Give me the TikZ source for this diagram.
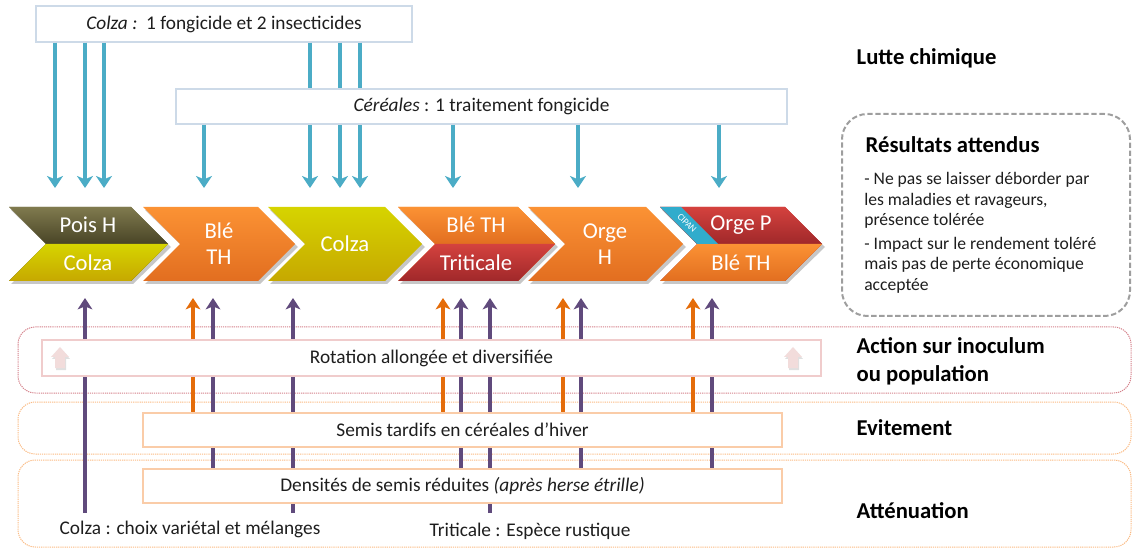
\documentclass[tikz,border=0pt]{standalone}
\usepackage{fontspec}
\setmainfont{Carlito}
\usetikzlibrary{arrows.meta,fit}
\definecolor{olivetop}{RGB}{128,122,78}
\definecolor{olivebot}{RGB}{72,68,38}
\definecolor{colzatop}{RGB}{214,212,0}
\definecolor{colzabot}{RGB}{198,168,0}
\definecolor{orangetop}{RGB}{251,146,52}
\definecolor{orangebot}{RGB}{226,110,32}
\definecolor{redtop}{RGB}{212,66,62}
\definecolor{redbot}{RGB}{160,40,42}
\definecolor{cipanblue}{RGB}{49,172,204}
\definecolor{arrblue}{RGB}{75,172,198}
\definecolor{arrpurple}{RGB}{96,74,124}
\definecolor{arrorange}{RGB}{228,108,10}
\definecolor{boxblue}{RGB}{205,218,232}
\definecolor{boxpink}{RGB}{240,204,204}
\definecolor{boxorange}{RGB}{250,204,168}
\definecolor{bandred}{RGB}{212,128,138}
\definecolor{bandorange}{RGB}{250,186,130}
\definecolor{blockpink}{RGB}{242,220,219}
\definecolor{txtdark}{RGB}{30,30,30}
\newcommand{\mychev}[4]{%
  \fill[black,opacity=.22] ({#1+2},210) -- ({#2+2},210) -- ({#2+40},247) -- ({#2+2},284) -- ({#1+2},284) -- ({#1+40},247) -- cycle;
  \path[top color=#3,bottom color=#4] (#1,207) -- (#2,207) -- ({#2+37},244) -- (#2,281) -- (#1,281) -- ({#1+37},244) -- cycle;}
\newcommand{\mychevtop}[4]{%
  \path[top color=#3,bottom color=#4] (#1,207) -- (#2,207) -- ({#2+37},244) -- ({#1+37},244) -- cycle;}
\newcommand{\mychevbot}[4]{%
  \path[top color=#3,bottom color=#4] ({#1+37},244) -- ({#2+37},244) -- (#2,281) -- (#1,281) -- cycle;}
\begin{document}
\begin{tikzpicture}[x=0.75pt,y=-0.75pt,
  box/.style={draw=#1,fill=white,line width=0.9pt,inner sep=0pt,font=\fontsize{14.5}{17}\selectfont,text=txtdark},
  band/.style={draw=#1,line width=0.75pt,dash pattern=on 0.9pt off 0.7pt,rounded corners=13pt},
  bluearr/.style={draw=arrblue,line width=2.3pt,-{Stealth[length=9pt,width=12pt,inset=2.5pt]}},
  uparr/.style={draw=#1,line width=2.5pt,-{Stealth[length=8.5pt,width=11pt,inset=2.2pt]}},
  chevtext/.style={text=white,font=\fontsize{17}{19.5}\selectfont,align=center},
  sidelabel/.style={anchor=west,font=\fontsize{17}{21}\selectfont\bfseries,text=black,align=left},
  bottomtext/.style={font=\fontsize{14.5}{17}\selectfont,text=txtdark},
  pinkblock/.style={fill=blockpink}
]
\useasboundingbox (0,0) rectangle (1133,549);

% bands
\draw[band=bandred] (18,327) rectangle (1131,393);
\draw[band=bandorange] (18,402) rectangle (1131,454);
\draw[band=bandorange] (18,460) rectangle (1131,547);

% arrow end points
\coordinate (p1) at (85,298);
\coordinate (p2) at (213,298);
\coordinate (p3) at (293,298);
\coordinate (p4) at (461,298);
\coordinate (p5) at (490,298);
\coordinate (p6) at (581,298);
\coordinate (p7) at (712,298);
\coordinate (o1) at (193,298);
\coordinate (o2) at (443,298);
\coordinate (o3) at (563,298);
\coordinate (o4) at (693,298);
\coordinate (f1) at (85,513);
\coordinate (f3) at (293,513);
\coordinate (f5) at (490,513);

\path (143,413) coordinate (semisTL) (782,447) coordinate (semisBR);
\path (143,469) coordinate (densTL) (782,503) coordinate (densBR);

% up arrows (behind boxes)
\draw[uparr=arrpurple] (f1) -- (p1);
\draw[uparr=arrpurple] (f3) -- (p3);
\draw[uparr=arrpurple] (f5) -- (p5);
\draw[uparr=arrpurple] (densTL -| p2) -- (p2);
\draw[uparr=arrpurple] (densTL -| p4) -- (p4);
\draw[uparr=arrpurple] (densTL -| p6) -- (p6);
\draw[uparr=arrpurple] (densTL -| p7) -- (p7);
\draw[uparr=arrorange] (semisTL -| o1) -- (o1);
\draw[uparr=arrorange] (semisTL -| o2) -- (o2);
\draw[uparr=arrorange] (semisTL -| o3) -- (o3);
\draw[uparr=arrorange] (semisTL -| o4) -- (o4);

% boxes
\node[box=boxpink,fit={(42,340) (821,376)}] (rot) {};
\node[font=\fontsize{14.5}{17}\selectfont,text=txtdark] (rottxt) at (rot.center) {Rotation allongée et diversifiée};
\node[box=boxorange,fit={(semisTL) (semisBR)}] (semis) {};
\node[font=\fontsize{14.5}{17}\selectfont,text=txtdark] (semistxt) at (semis.center) {Semis tardifs en céréales d’hiver};
\node[box=boxorange,fit={(densTL) (densBR)}] (dens) {};
\node[font=\fontsize{14.5}{17}\selectfont,text=txtdark] (denstxt) at (dens.center) {Densités de semis réduites \textit{(après herse étrille)}};

% pink block arrows
\foreach \bx/\nm in {60/pa,793/pb}{
  \fill[black,opacity=.12] ({\bx-8},{359}) -- ({\bx+1},{349}) -- ({\bx+10},{359}) -- ({\bx+6},{359}) -- ({\bx+6},{370}) -- ({\bx-4},{370}) -- ({\bx-4},{359}) -- cycle;
  \path[pinkblock] ({\bx-9},{357}) -- (\bx,{347}) -- ({\bx+9},{357}) -- ({\bx+5},{357}) -- ({\bx+5},{368}) -- ({\bx-5},{368}) -- ({\bx-5},{357}) -- cycle;
  \coordinate (\nm) at (\bx,357);
}

% blue arrows targets
\coordinate (b1) at (55,188);
\coordinate (b2) at (85,188);
\coordinate (b3) at (104,188);
\coordinate (b4) at (310,188);
\coordinate (b5) at (340,188);
\coordinate (b6) at (360,188);
\coordinate (c1) at (204,188);
\coordinate (c2) at (453,188);
\coordinate (c3) at (578,188);
\coordinate (c4) at (719,188);

\node[box=boxblue,fit={(36,6) (412,42)}] (colza) {};
\node[font=\fontsize{14.5}{17}\selectfont,text=txtdark] (colzatxt) at (colza.center) {\textit{Colza :}\ \ 1 fongicide et 2 insecticides};

\foreach \t in {b1,b2,b3,b4,b5,b6}{\draw[bluearr] (colza.south -| \t) -- (\t);}

\node[box=boxblue,fit={(176,89) (787,124)}] (cer) {};
\node[font=\fontsize{14.5}{17}\selectfont,text=txtdark] (certxt) at (cer.center) {\textit{Céréales} : 1 traitement fongicide};
\foreach \t in {c1,c2,c3,c4}{\draw[bluearr] (cer.south -| \t) -- (\t);}

% chevrons
\mychev{9}{131}{olivetop}{olivebot}
\mychevtop{9}{131}{olivetop}{olivebot}
\mychevbot{9}{131}{colzatop}{colzabot}
\mychev{143}{258}{orangetop}{orangebot}
\mychev{268}{385}{colzatop}{colzabot}
\mychev{398}{518}{orangetop}{orangebot}
\mychevtop{398}{518}{orangetop}{orangebot}
\mychevbot{398}{518}{redtop}{redbot}
\mychev{528}{646}{orangetop}{orangebot}
\mychev{660}{785}{redtop}{redbot}
\mychevtop{660}{785}{redtop}{redbot}
\mychevbot{660}{785}{orangetop}{orangebot}
\fill[cipanblue] (660,207) -- (681,207) -- (718,244) -- (697,244) -- cycle;
\node[text=white,font=\fontsize{7}{8}\selectfont,rotate=-45,inner sep=0pt] (cipan) at (687,223) {CIPAN};

\node[chevtext] (k1a) at (88,225) {Pois H};
\node[chevtext] (k1b) at (88,263) {Colza};
\node[chevtext] (k2) at (219,244) {Blé\\TH};
\node[chevtext] (k3) at (345,244) {Colza};
\node[chevtext] (k4a) at (476,225) {Blé TH};
\node[chevtext] (k4b) at (476,263) {Triticale};
\node[chevtext] (k5) at (605,244) {Orge\\H};
\node[chevtext] (k6a) at (741,225) {Orge P};
\node[chevtext] (k6b) at (741,263) {Blé TH};

% right side
\node[sidelabel] (lutte) at (852,58) {Lutte chimique};
\node[fit={(842,114) (1130,316)},draw=black!38,line width=1.5pt,dash pattern=on 4pt off 2pt,rounded corners=19pt,inner sep=0pt] (res) {};
\node[sidelabel] (restitle) at (861,145) {Résultats attendus};
\node[anchor=north west,align=left,inner sep=0pt,text=txtdark,font=\fontsize{13.2}{15.5}\selectfont] (resbody) at (864,172) {- Ne pas se laisser déborder par\\les maladies et ravageurs,\\présence tolérée\\[2pt]- Impact sur le rendement toléré\\mais pas de perte économique\\acceptée};
\node[sidelabel] (action) at (852,361) {Action sur inoculum\\ou population};
\node[sidelabel] (evit) at (852,428) {Evitement};
\node[sidelabel] (att) at (852,511) {Atténuation};

\node[bottomtext] (colzabas) at (190,529) {Colza : choix variétal et mélanges};
\node[bottomtext] (tritbas) at (530,531) {Triticale : Espèce rustique};
\end{tikzpicture}
\end{document}
